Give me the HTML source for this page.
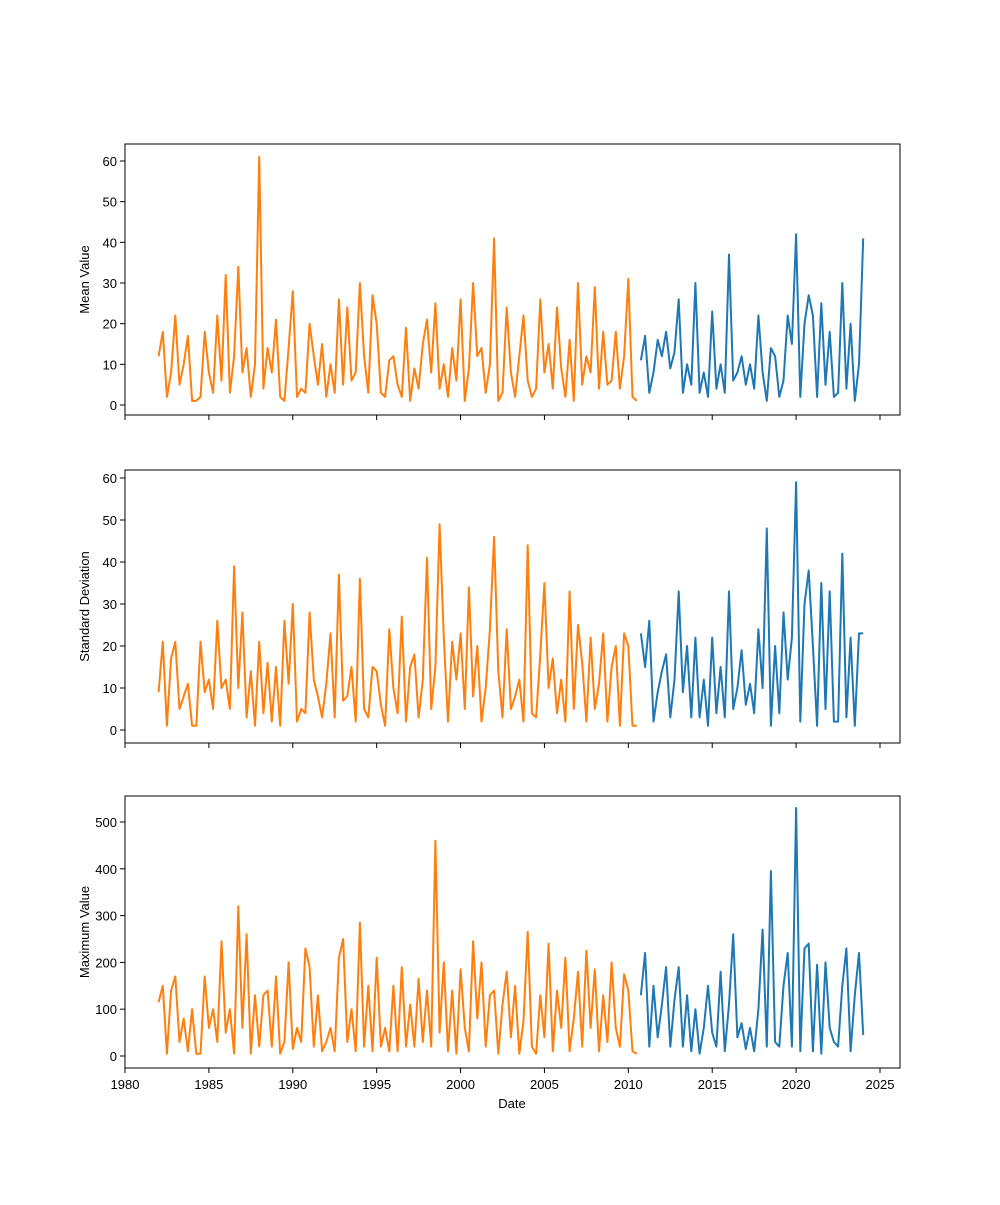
<!DOCTYPE html>
<html><head><meta charset="utf-8">
<style>
body{margin:0;background:#fff;}
svg text{font-family:"Liberation Sans","DejaVu Sans",sans-serif;fill:#000;}
</style></head>
<body>
<svg id="chart" width="1000" height="1200" xmlns="http://www.w3.org/2000/svg"></svg>
<script>
// Shared sampling: orange series quarterly from 1982.0, blue quarterly from 2010.75
const orangeStart = 1982.0;
const blueStart = 2010.75;
const sampleStep = 0.25;

const meanOrange = [12,18,2,8, 22,5,10,17, 1,1,2,18, 8,3,22,6, 32,3,12,34, 8,14,2,10, 61,4,14,8, 21,2,1,14, 28,2,4,3, 20,12,5,15, 2,10,3,26, 5,24,6,8, 30,12,3,27, 20,3,2,11, 12,5,2,19, 1,9,4,15, 21,8,25,4, 10,2,14,6, 26,1,9,30, 12,14,3,10, 41,1,3,24, 8,2,12,22, 6,2,4,26, 8,15,4,24, 9,2,16,1, 30,5,12,8, 29,4,18,5, 6,18,4,12, 31,2,1];
const meanBlue = [11, 17,3,8,16, 12,18,9,13, 26,3,10,5, 30,3,8,2, 23,4,10,3, 37,6,8,12, 5,10,4,22, 8,1,14,12, 2,6,22,15, 42,2,20,27, 22,2,25,5, 18,2,3,30, 4,20,1,10, 41];

const stdOrange = [9,21,1,17, 21,5,8,11, 1,1,21,9, 12,5,26,10, 12,5,39,10, 28,3,14,1, 21,4,16,2, 15,1,26,11, 30,2,5,4, 28,12,8,3, 11,23,3,37, 7,8,15,2, 36,5,3,15, 14,6,1,24, 10,4,27,2, 15,18,3,12, 41,5,15,49, 22,2,21,12, 23,5,34,8, 20,2,10,24, 46,14,3,24, 5,8,12,2, 44,4,3,18, 35,10,17,4, 12,2,33,5, 25,16,2,22, 5,11,23,2, 15,20,1,23, 20,1,1];
const stdBlue = [23, 15,26,2,9, 14,18,3,12, 33,9,20,3, 22,3,12,1, 22,4,15,3, 33,5,10,19, 6,11,4,24, 10,48,1,20, 4,28,12,22, 59,2,30,38, 20,1,35,5, 33,2,2,42, 3,22,1,23, 23];

const maxOrange = [115,150,5,140, 170,30,80,10, 100,5,5,170, 60,100,30,245, 50,100,5,320, 60,260,5,130, 20,130,140,20, 170,5,30,200, 15,60,30,230, 190,20,130,10, 30,60,10,210, 250,30,100,10, 285,20,150,10, 210,20,60,10, 150,10,190,20, 110,20,165,30, 140,20,460,50, 200,10,140,5, 185,60,10,245, 80,200,20,130, 140,5,110,180, 40,150,5,75, 265,20,5,130, 40,240,10,140, 60,210,10,80, 180,20,225,60, 185,10,130,30, 200,60,20,175, 140,10,5];
const maxBlue = [130, 220,20,150,40, 110,190,20,120, 190,20,130,10, 100,5,60,150, 50,20,180,10, 110,260,40,70, 15,60,10,100, 270,20,395,30, 20,150,220,20, 530,10,230,240, 10,195,5,200, 60,30,20,150, 230,10,130,220, 45];

const xTicks = [1980,1985,1990,1995,2000,2005,2010,2015,2020,2025];
const yTicksSmall = [0,10,20,30,40,50,60];
const yTicksMax = [0,100,200,300,400,500];

const NS = "http://www.w3.org/2000/svg";
const svg = document.getElementById('chart');
const L = 125, R = 900;
const xScale = v => L + (v - 1980) * (880 - 125) / 45;

function mk(tag, attrs, parent){
  const e = document.createElementNS(NS, tag);
  for (const k in attrs) e.setAttribute(k, attrs[k]);
  (parent || svg).appendChild(e);
  return e;
}

const panels = [
  {name:'mean', top:144, bot:415, y0:405, y1:161, v1:60, ticks:yTicksSmall, label:'Mean Value', o:meanOrange, b:meanBlue},
  {name:'std', top:470, bot:743, y0:730, y1:478, v1:60, ticks:yTicksSmall, label:'Standard Deviation', o:stdOrange, b:stdBlue},
  {name:'max', top:796, bot:1068, y0:1056, y1:822, v1:500, ticks:yTicksMax, label:'Maximum Value', o:maxOrange, b:maxBlue}
];

panels.forEach((p, pi) => {
  const g = mk('g', {});
  
  
  const yScale = v => p.y0 + v * (p.y1 - p.y0) / p.v1;
  const clipId = 'clip' + pi;
  const cp = mk('clipPath', {id: clipId}, g);
  mk('rect', {x:L, y:p.top, width:R-L, height:p.bot-p.top}, cp);

  // series
  [['o', orangeStart, '#ff7f0e'], ['b', blueStart, '#1f77b4']].forEach(([key, start, col]) => {
    const vals = p[key];
    const pts = vals.map((v, i) => xScale(start + i * sampleStep).toFixed(1) + ',' + yScale(v).toFixed(1)).join(' ');
    const pl = mk('polyline', {points: pts, fill:'none', stroke:col, 'stroke-width':2, 'stroke-linejoin':'round', 'clip-path':'url(#' + clipId + ')'}, g);
    
    
  });

  // frame
  const fr = mk('rect', {x:L, y:p.top, width:R-L, height:p.bot-p.top, fill:'none', stroke:'#000', 'stroke-width':1}, g);
  
  

  // y ticks
  p.ticks.forEach(t => {
    const y = yScale(t);
    mk('line', {x1:L-5, x2:L, y1:y, y2:y, stroke:'#000', 'stroke-width':1}, g);
    const tx = mk('text', {x:L-8, y:y+5, 'text-anchor':'end', 'font-size':13}, g);
    tx.textContent = t;
    
    
  });
  // x ticks
  xTicks.forEach(t => {
    const x = xScale(t);
    mk('line', {x1:x, x2:x, y1:p.bot, y2:p.bot+5, stroke:'#000', 'stroke-width':1}, g);
    if (pi === 2) {
      const tx = mk('text', {x:x, y:p.bot+21, 'text-anchor':'middle', 'font-size':13}, g);
      tx.textContent = t;
      
      
    }
  });
  // y label
  const yc = (p.top + p.bot) / 2;
  const yl = mk('text', {x:89, y:yc, 'text-anchor':'middle', 'font-size':13, transform:'rotate(-90 89 ' + yc + ')'}, g);
  yl.textContent = p.label;
  
  
});

const xl = mk('text', {x:512, y:1108, 'text-anchor':'middle', 'font-size':13});
xl.textContent = 'Date';


</script>
</body></html>
